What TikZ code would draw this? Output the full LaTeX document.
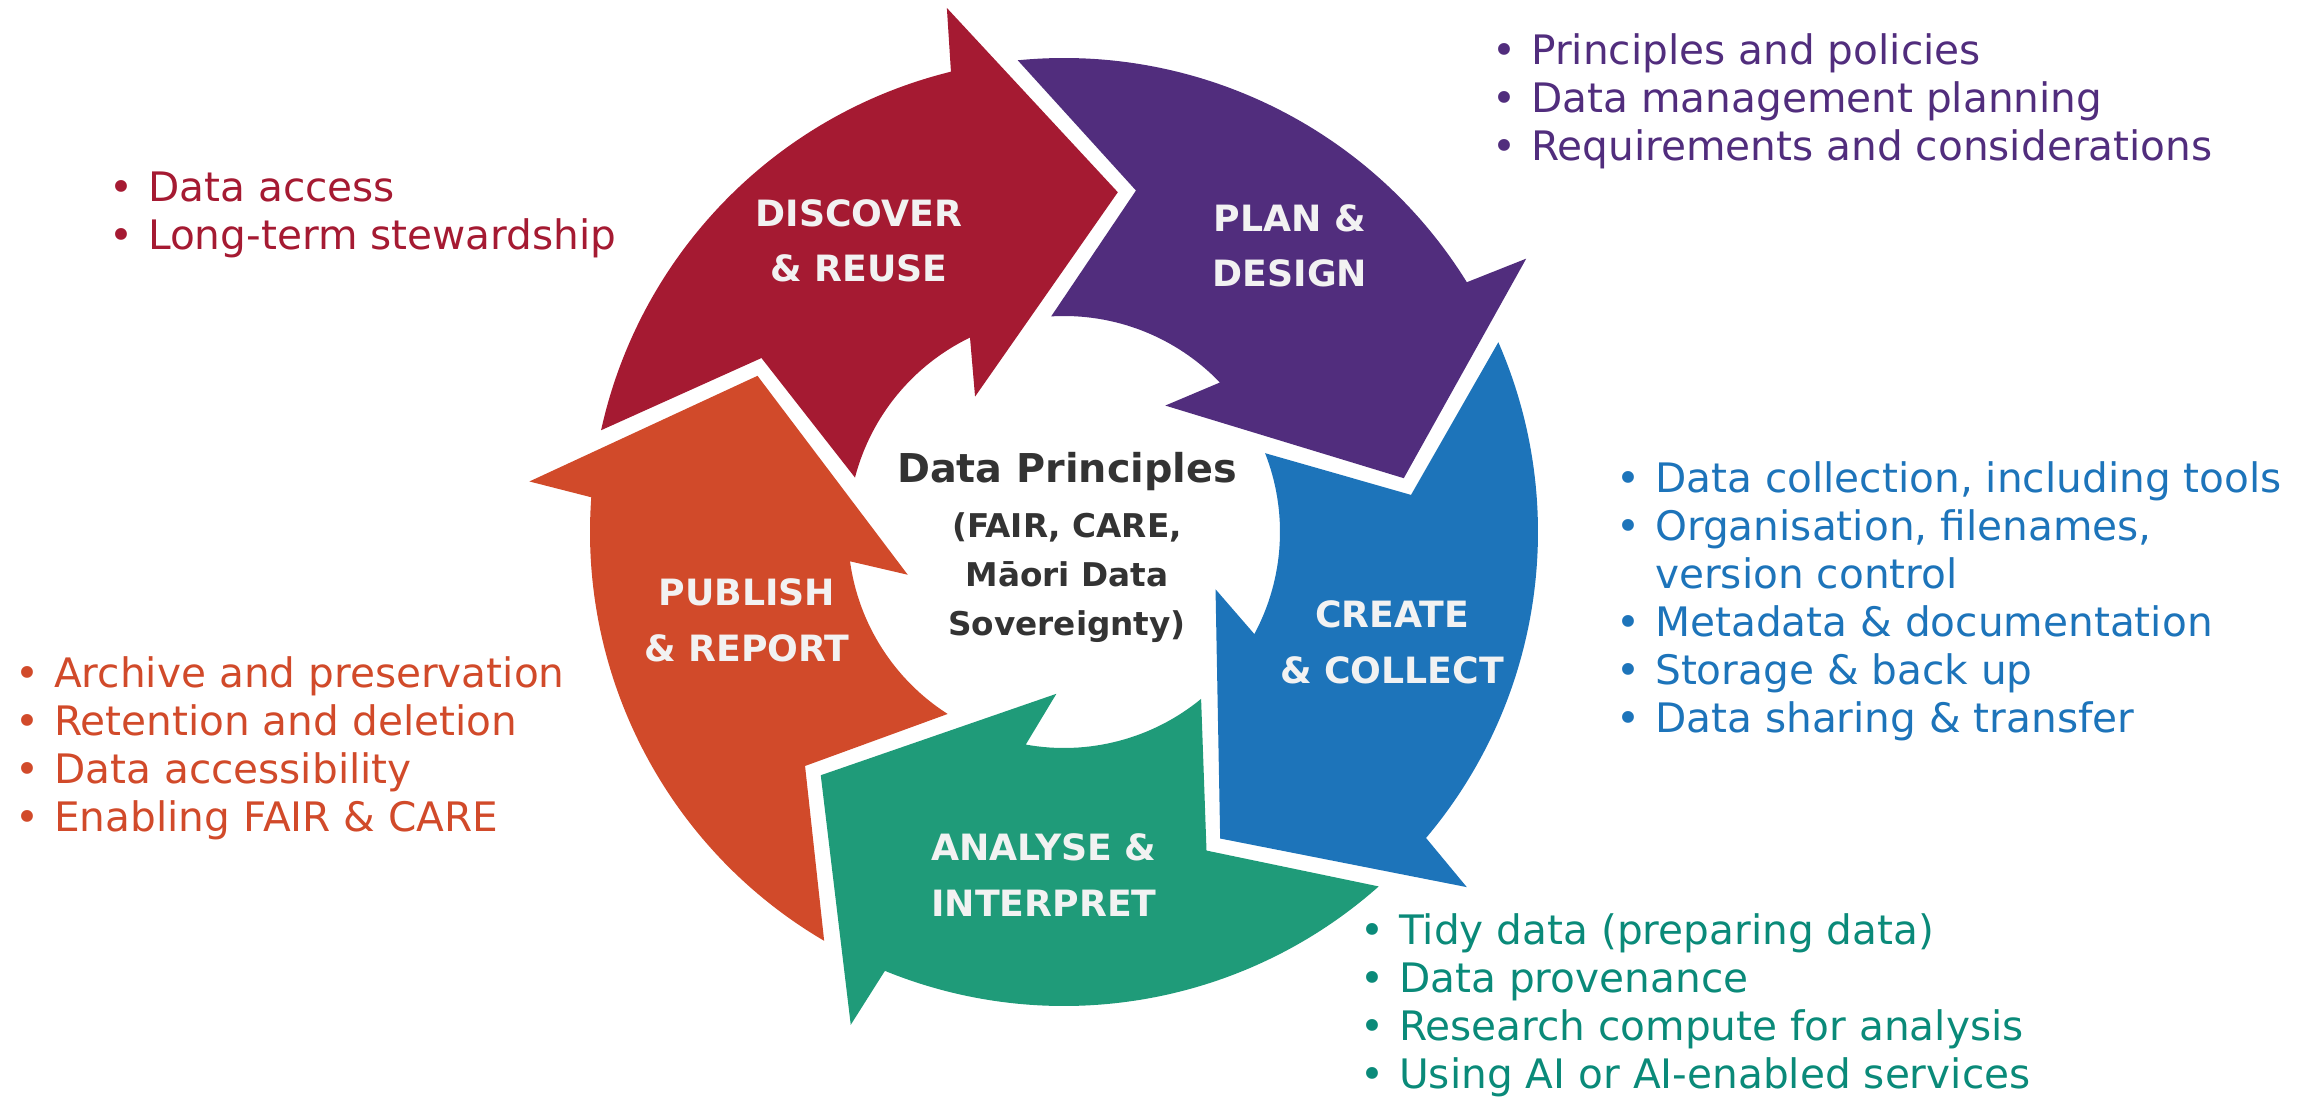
\documentclass[tikz,border=0pt]{standalone}
\usepackage{fontspec}
\setmainfont{DejaVu Sans}
\usepackage{tikz}
\definecolor{discover}{HTML}{A51A32}
\definecolor{plan}{HTML}{512D7D}
\definecolor{create}{HTML}{1D74BA}
\definecolor{analyse}{HTML}{1F9B79}
\definecolor{analysetext}{HTML}{0A8A79}
\definecolor{publish}{HTML}{D14A2A}
\definecolor{principles}{HTML}{333333}
\definecolor{stagetext}{HTML}{F2F2F2}
\newcommand{\itm}{\makebox[0.385cm][l]{\textbullet}}
\newcommand{\cycleArrow}[2]{%
  \fill[#2, shift={(1064,-532)}, rotate=#1] (81:344) -- (102.6:537) -- (103.8:474)
    arc[start angle=103.8, end angle=167.6, radius=474] -- (150.1:349) -- (165.4:216)
    arc[start angle=165.4, end angle=115.8, radius=216] -- (123.3:162) -- cycle;}

\begin{document}
\begin{tikzpicture}[x=0.01cm, y=0.01cm]
  \tikzset{stage/.style={text=stagetext, font=\fontsize{10.3pt}{15.9pt}\selectfont\bfseries,
      align=center, anchor=base, inner sep=0pt},
    points/.style={font=\fontsize{11.55pt}{13.6pt}\selectfont, align=left,
      anchor=base west, inner sep=0pt}}
  \useasboundingbox (0,0) rectangle (2305,-1097);
  \cycleArrow{0}{discover}
  \cycleArrow{-72}{plan}
  \cycleArrow{-144}{create}
  \cycleArrow{-216}{analyse}
  \cycleArrow{-288}{publish}
  \node[stage] (discover) at (859,-282) {DISCOVER\\\& REUSE};
  \node[stage] (plan) at (1290,-287) {PLAN \&\\DESIGN};
  \node[stage] (create) at (1392,-683) {CREATE\\\& COLLECT};
  \node[stage] (analyse) at (1044,-916) {ANALYSE \&\\INTERPRET};
  \node[stage] (publish) at (747,-661) {PUBLISH\\\& REPORT};
  \node[text=principles, font=\fontsize{11.3pt}{15pt}\selectfont\bfseries, anchor=base,
    inner sep=0pt] (title) at (1067,-482) {Data Principles};
  \node[text=principles, font=\fontsize{9.3pt}{13.9pt}\selectfont\bfseries, align=center,
    anchor=base, inner sep=0pt] (frameworks) at (1067,-635)
    {(FAIR, CARE,\\Māori Data\\Sovereignty)};
  \node[points, text=plan] (plan-list) at (1492,-160.6)
    {\itm Principles and policies\\\itm Data management planning\\\itm Requirements and considerations};
  \node[points, text=create] (create-list) at (1616,-732)
    {\itm Data collection, including tools\\\itm Organisation, filenames,\\\hspace*{0.385cm}version control\\
     \itm Metadata \& documentation\\\itm Storage \& back up\\\itm Data sharing \& transfer};
  \node[points, text=discover] (discover-list) at (109,-249.2)
    {\itm Data access\\\itm Long-term stewardship};
  \node[points, text=publish] (publish-list) at (15,-831.4)
    {\itm Archive and preservation\\\itm Retention and deletion\\\itm Data accessibility\\\itm Enabling FAIR \& CARE};
  \node[points, text=analysetext] (analyse-list) at (1360,-1088.4)
    {\itm Tidy data (preparing data)\\\itm Data provenance\\\itm Research compute for analysis\\\itm Using AI or AI-enabled services};
\end{tikzpicture}
\end{document}
